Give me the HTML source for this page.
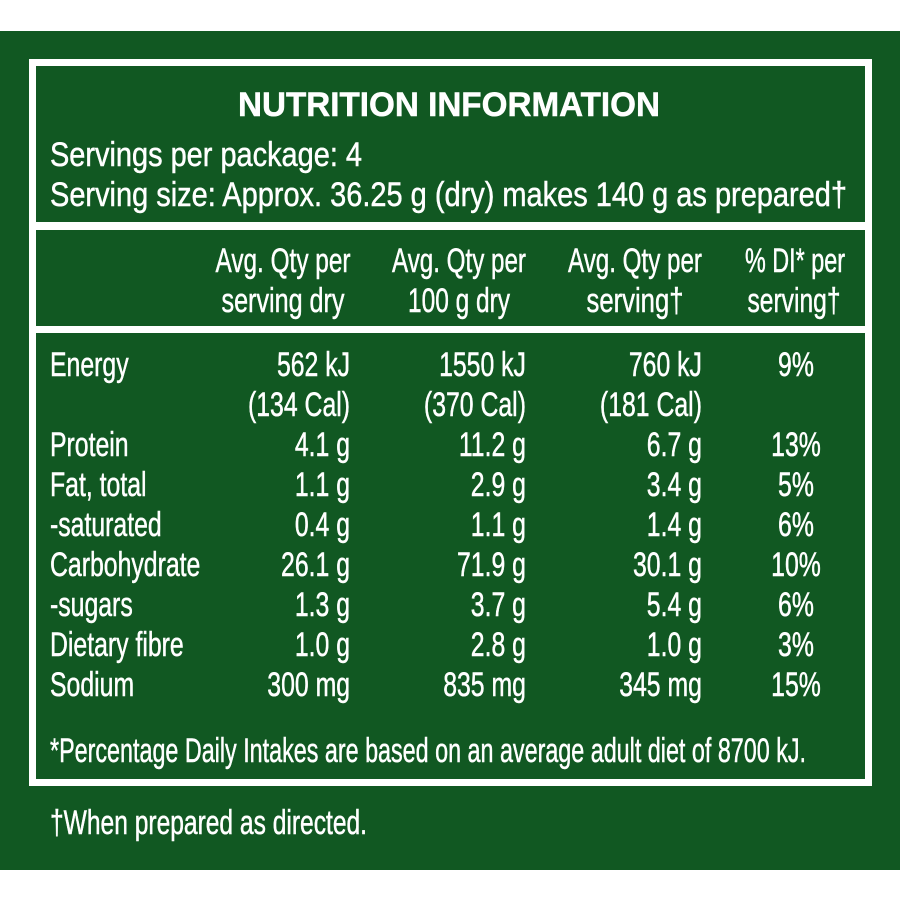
<!DOCTYPE html>
<html><head><style>
html,body{margin:0;padding:0;background:#fff;}
svg{display:block}
text{font-family:"Liberation Sans",sans-serif;fill:#fff;font-size:34px;stroke:#fff;stroke-width:0.5px;}
</style></head><body>
<svg width="900" height="900" viewBox="0 0 900 900">
<rect x="0" y="31" width="900" height="839" fill="#115822"/>
<rect x="32.5" y="62.5" width="836" height="720" fill="none" stroke="#fff" stroke-width="7"/>
<rect x="32" y="222" width="836" height="8" fill="#fff"/>
<rect x="32" y="326" width="836" height="7" fill="#fff"/>
<text x="238" y="116" font-weight="bold" font-size="41" textLength="422" lengthAdjust="spacingAndGlyphs">NUTRITION INFORMATION</text>
<text x="50" y="166" font-size="36" textLength="312" lengthAdjust="spacingAndGlyphs">Servings per package: 4</text>
<text x="50" y="206" font-size="36" textLength="797" lengthAdjust="spacingAndGlyphs">Serving size: Approx. 36.25 g (dry) makes 140 g as prepared†</text>
<g text-anchor="middle" font-size="33">
<text x="283" y="272" textLength="135" lengthAdjust="spacingAndGlyphs">Avg. Qty per</text>
<text x="283" y="312" textLength="123" lengthAdjust="spacingAndGlyphs">serving dry</text>
<text x="459" y="272" textLength="134" lengthAdjust="spacingAndGlyphs">Avg. Qty per</text>
<text x="459" y="312" textLength="102" lengthAdjust="spacingAndGlyphs">100 g dry</text>
<text x="635" y="272" textLength="134" lengthAdjust="spacingAndGlyphs">Avg. Qty per</text>
<text x="635" y="312" textLength="97" lengthAdjust="spacingAndGlyphs">serving†</text>
<text x="795" y="272" textLength="100" lengthAdjust="spacingAndGlyphs">% DI* per</text>
<text x="794" y="312" textLength="93" lengthAdjust="spacingAndGlyphs">serving†</text>
</g>
<g transform="scale(0.73,1)" font-size="36">
<g>
<text x="68.5" y="376">Energy</text>
<text x="68.5" y="456">Protein</text>
<text x="68.5" y="496">Fat, total</text>
<text x="68.5" y="536">-saturated</text>
<text x="68.5" y="576">Carbohydrate</text>
<text x="68.5" y="616">-sugars</text>
<text x="68.5" y="656">Dietary fibre</text>
<text x="68.5" y="696">Sodium</text>
</g>
<g text-anchor="end">
<text x="479.5" y="376">562 kJ</text><text x="479.5" y="416">(134 Cal)</text>
<text x="479.5" y="456">4.1 g</text><text x="479.5" y="496">1.1 g</text><text x="479.5" y="536">0.4 g</text>
<text x="479.5" y="576">26.1 g</text><text x="479.5" y="616">1.3 g</text><text x="479.5" y="656">1.0 g</text><text x="479.5" y="696">300 mg</text>
<text x="720.5" y="376">1550 kJ</text><text x="720.5" y="416">(370 Cal)</text>
<text x="720.5" y="456">11.2 g</text><text x="720.5" y="496">2.9 g</text><text x="720.5" y="536">1.1 g</text>
<text x="720.5" y="576">71.9 g</text><text x="720.5" y="616">3.7 g</text><text x="720.5" y="656">2.8 g</text><text x="720.5" y="696">835 mg</text>
<text x="961.6" y="376">760 kJ</text><text x="961.6" y="416">(181 Cal)</text>
<text x="961.6" y="456">6.7 g</text><text x="961.6" y="496">3.4 g</text><text x="961.6" y="536">1.4 g</text>
<text x="961.6" y="576">30.1 g</text><text x="961.6" y="616">5.4 g</text><text x="961.6" y="656">1.0 g</text><text x="961.6" y="696">345 mg</text>
</g>
<g text-anchor="middle">
<text x="1090.4" y="376">9%</text><text x="1090.4" y="456">13%</text><text x="1090.4" y="496">5%</text>
<text x="1090.4" y="536">6%</text><text x="1090.4" y="576">10%</text><text x="1090.4" y="616">6%</text>
<text x="1090.4" y="656">3%</text><text x="1090.4" y="696">15%</text>
</g>
</g>
<text x="50" y="762" font-size="33" textLength="756" lengthAdjust="spacingAndGlyphs">*Percentage Daily Intakes are based on an average adult diet of 8700 kJ.</text>
<text x="50" y="834" font-size="33" textLength="317" lengthAdjust="spacingAndGlyphs">†When prepared as directed.</text>
</svg>
</body></html>
